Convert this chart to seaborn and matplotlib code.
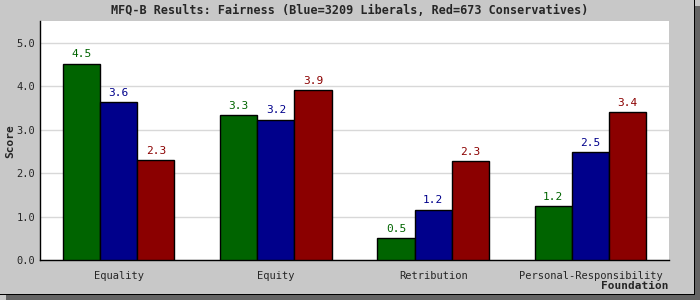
import matplotlib
matplotlib.use("Agg")
import matplotlib.pyplot as plt
import seaborn as sns
import pandas as pd
import numpy as np
from matplotlib.patches import Rectangle
from matplotlib.ticker import MultipleLocator, FixedLocator

categories = ["Equality", "Equity", "Retribution", "Personal-Responsibility"]
series = ["All", "Liberals", "Conservatives"]
all_vals = [4.52, 3.34, 0.51, 1.25]
lib_vals = [3.64, 3.23, 1.16, 2.48]
con_vals = [2.29, 3.91, 2.27, 3.40]
colors = ["#006400", "#00008b", "#8b0000"]

df = pd.DataFrame({
    "Foundation": categories * 3,
    "Group": [s for s in series for _ in categories],
    "Score": all_vals + lib_vals + con_vals,
})

sns.set_style("white")
plt.rcParams["font.family"] = ["DejaVu Sans Mono"]

fig = plt.figure(figsize=(7, 3), dpi=100)
fig.patch.set_facecolor("#c8c8c8")
# frame with shadow
fig.patches.append(Rectangle((0, 0), 1, 1, transform=fig.transFigure, facecolor="#646464", edgecolor="none", zorder=-3))
fig.patches.append(Rectangle((0, 6/300), 694/700, 294/300, transform=fig.transFigure, facecolor="#c8c8c8", edgecolor="none", zorder=-2))
fig.patches.append(Rectangle((0, 5/300), 695/700, 1/300, transform=fig.transFigure, facecolor="black", edgecolor="none", zorder=-1))
fig.patches.append(Rectangle((694/700, 5/300), 1/700, 295/300, transform=fig.transFigure, facecolor="black", edgecolor="none", zorder=-1))
fig.patches.append(Rectangle((0, 0), 6/700, 5/300, transform=fig.transFigure, facecolor="#c8c8c8", edgecolor="none", zorder=-1))
fig.patches.append(Rectangle((695/700, 294/300), 5/700, 6/300, transform=fig.transFigure, facecolor="#c8c8c8", edgecolor="none", zorder=-1))

ax = fig.add_axes([40/700, 40/300, 629/700, 239/300])
ax.set_facecolor("white")
sns.barplot(data=df, x="Foundation", y="Score", hue="Group", hue_order=series,
            order=categories, palette=colors, width=0.71, edgecolor="black",
            linewidth=1, saturation=1, ax=ax, legend=False, zorder=3)

for cont, col in zip(ax.containers, colors):
    ax.bar_label(cont, labels=[f"{b.get_height():.1f}" for b in cont], padding=3,
                 color=col, fontsize=8)

ax.set_xlim(-0.5, 3.5)
ax.set_ylim(0, 5.5)
ax.yaxis.set_major_locator(MultipleLocator(1.0))
ax.yaxis.set_minor_locator(MultipleLocator(0.5))
ax.set_yticklabels([f"{v:.1f}" for v in ax.get_yticks()])
ax.xaxis.set_minor_locator(FixedLocator([0.5, 1.5, 2.5, 3.5]))
ax.tick_params(axis="x", which="major", length=0, labelsize=7.5, pad=8)
ax.tick_params(axis="x", which="minor", length=4, direction="in", width=1, color="black")
ax.tick_params(axis="y", which="major", length=4, direction="in", labelsize=7.5, width=1, color="black")
ax.tick_params(axis="y", which="minor", length=3, direction="in", width=1, color="black")
ax.grid(axis="y", which="major", color="#d8d8d8", linewidth=1, zorder=0)
ax.set_axisbelow(True)
for s in ["top", "right"]:
    ax.spines[s].set_visible(False)
for s in ["left", "bottom"]:
    ax.spines[s].set_color("black")
    ax.spines[s].set_linewidth(1)

ax.set_xlabel("")
ax.set_ylabel("")
fig.text(10/700, 1 - 141/300, "Score", rotation=90, ha="center", va="center", fontsize=8, fontweight="bold")
fig.text(669/700, 1 - 286/300, "Foundation", ha="right", va="center", fontsize=8, fontweight="bold")
fig.text(350/700, 1 - 10/300, "MFQ-B Results: Fairness (Blue=3209 Liberals, Red=673 Conservatives)",
         ha="center", va="center", fontsize=8.5, fontweight="bold")

fig.savefig("out.png", dpi=100, facecolor=fig.get_facecolor())
